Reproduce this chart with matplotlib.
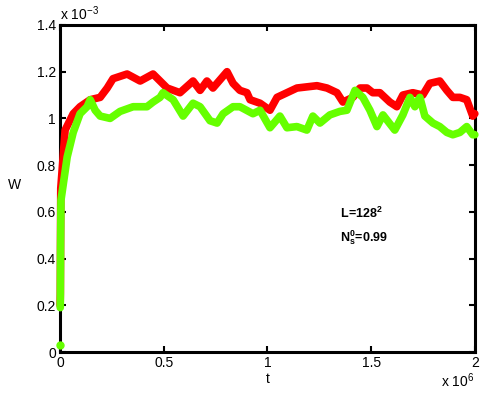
import matplotlib
matplotlib.use('Agg')
from matplotlib import pyplot as plt
import numpy as np

# t in units of 1e6, W in units of 1e-3
t_red = [0, 0.001, 0.003, 0.024, 0.063, 0.096, 0.145, 0.193, 0.227, 0.255, 0.323, 0.386,
         0.448, 0.482, 0.516, 0.578, 0.641, 0.675, 0.708, 0.737, 0.805, 0.834, 0.867,
         0.901, 0.916, 0.964, 1.012, 1.046, 1.094, 1.142, 1.190, 1.239, 1.287, 1.335,
         1.364, 1.412, 1.446, 1.480, 1.508, 1.542, 1.590, 1.624, 1.653, 1.701, 1.749,
         1.783, 1.831, 1.865, 1.894, 1.928, 1.961, 1.990, 2.0]
w_red = [0.2, 0.25, 0.7, 0.95, 1.02, 1.05, 1.08, 1.09, 1.13, 1.17, 1.19, 1.16,
         1.19, 1.16, 1.13, 1.11, 1.16, 1.12, 1.16, 1.13, 1.20, 1.15, 1.12,
         1.11, 1.08, 1.065, 1.035, 1.09, 1.11, 1.13, 1.135, 1.14, 1.13, 1.11,
         1.07, 1.09, 1.13, 1.13, 1.11, 1.11, 1.07, 1.05, 1.10, 1.11, 1.10,
         1.15, 1.16, 1.12, 1.09, 1.09, 1.08, 1.01, 1.02]

t_green = [0.0005, 0.001, 0.002, 0.004, 0.034, 0.063, 0.096, 0.130, 0.145, 0.169, 0.193,
           0.241, 0.289, 0.352, 0.419, 0.448, 0.482, 0.496, 0.545, 0.593, 0.641, 0.675,
           0.723, 0.757, 0.786, 0.834, 0.867, 0.930, 0.964, 1.012, 1.060, 1.094, 1.142,
           1.190, 1.219, 1.253, 1.301, 1.349, 1.383, 1.422, 1.460, 1.494, 1.528, 1.557,
           1.614, 1.653, 1.687, 1.711, 1.735, 1.759, 1.798, 1.831, 1.865, 1.894, 1.928,
           1.961, 1.990, 2.0]
w_green = [0.19, 0.23, 0.45, 0.65, 0.835, 0.94, 1.02, 1.05, 1.08, 1.035, 1.01,
           1.0, 1.03, 1.05, 1.05, 1.07, 1.09, 1.11, 1.08, 1.01, 1.065, 1.05,
           0.99, 0.98, 1.02, 1.05, 1.05, 1.02, 1.035, 0.96, 1.01, 0.96, 0.965,
           0.95, 1.01, 0.98, 1.015, 1.03, 1.035, 1.12, 1.09, 1.035, 0.965, 1.015,
           0.95, 1.015, 1.09, 1.05, 1.09, 1.01, 0.98, 0.965, 0.94, 0.93, 0.94,
           0.965, 0.93, 0.93]
t_green0 = [0]
w_green0 = [0.03]

x_ticks = [0, 0.5, 1, 1.5, 2]
x_labels = ['0', '0.5', '1', '1.5', '2']
y_ticks = [0, 0.2, 0.4, 0.6, 0.8, 1.0, 1.2, 1.4]
y_labels = ['0', '0.2', '0.4', '0.6', '0.8', '1', '1.2', '1.4']

plt.rcParams['font.family'] = ['Liberation Sans', 'DejaVu Sans']
plt.rcParams['mathtext.fontset'] = 'custom'
plt.rcParams['mathtext.rm'] = 'Liberation Sans'
plt.rcParams['mathtext.bf'] = 'Liberation Sans:bold'

red = '#ff0000'
green = '#66ff00'

fig = plt.figure(figsize=(4.85, 3.96), dpi=100)
ax = fig.add_axes([0.124, 0.111, 0.855, 0.826])

ax.plot(t_red, w_red, color=red, lw=5.5, solid_capstyle='round', solid_joinstyle='round',
        clip_on=False, zorder=3)
ax.plot(t_green, w_green, color=green, lw=5.5, solid_capstyle='round', solid_joinstyle='round',
        clip_on=False, zorder=4)
ax.plot(t_green0, w_green0, 'o', color=green, ms=5, clip_on=False, zorder=4)

ax.set_xlim(0, 2)
ax.set_ylim(0, 1.4)
ax.set_xticks(x_ticks)
ax.set_xticklabels(x_labels)
ax.set_yticks(y_ticks)
ax.set_yticklabels(y_labels)
ax.tick_params(direction='in', length=4, width=1.5, top=True, right=True,
               labelsize=10, pad=3)
for s in ax.spines.values():
    s.set_linewidth(2.2)

ax.set_xlabel('t', fontsize=10, labelpad=1)
ax.set_ylabel('W', fontsize=10, rotation=0)
ax.yaxis.set_label_coords(-0.11, 0.49)

ax.text(0.0, 1.005, r'x 10$^{-3}$', transform=ax.transAxes, fontsize=10,
        ha='left', va='bottom')
ax.text(1.0, -0.058, r'x 10$^{6}$', transform=ax.transAxes, fontsize=10,
        ha='right', va='top')

ax.text(1.35, 0.595, r'$\mathbf{L\!=\!128^2}$', fontsize=9, ha='left', va='center')
ax.text(1.35, 0.49, r'$\mathbf{N_s^0\!=\!0.99}$', fontsize=9, ha='left', va='center')

fig.savefig('out.png', dpi=100)
